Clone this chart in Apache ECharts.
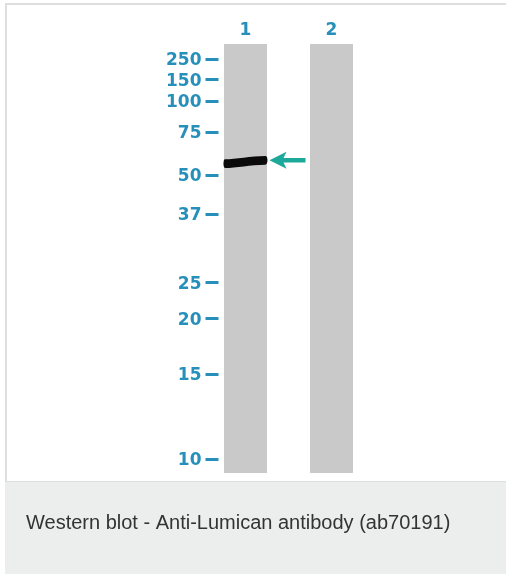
<!DOCTYPE html>
<html>
<head>
<meta charset="utf-8">
<script src="https://cdn.jsdelivr.net/npm/echarts@6/dist/echarts.min.js"></script>
<style>
html,body{margin:0;padding:0;background:#fff;}
#chart{width:506px;height:574px;}
</style>
</head>
<body>
<div id="chart"></div>
<script>
// Lanes of the blot
var lanes = ['1', '2'];
var laneExtent = [1, 1];               // each lane runs the full gel length (relative migration 0..1)
// Molecular-weight ladder (kDa) and relative migration (0 = top of gel, 1 = bottom)
var markerLabels = ['250', '150', '100', '75', '50', '37', '25', '20', '15', '10'];
var markerRf = [0.035, 0.082, 0.133, 0.205, 0.305, 0.396, 0.555, 0.639, 0.769, 0.967];
// Detected band (lane 1) and its relative migration
var bandLane = '1';
var bandRf = 0.275;
var caption = 'Western blot - Anti-Lumican antibody (ab70191)';

var labelColor = '#2690bb';
var chart = echarts.init(document.getElementById('chart'), null, {renderer: 'canvas'});

var bandPath = 'path://M1,4 C12,4 28,1 43,1 C46,1 46,9 43,9 C28,9 12,12 1,12 C-1,12 -1,4 1,4 Z';
var arrowPath = 'path://M0,9 L17,0 L14,6.5 L36,6.5 L36,11.5 L14,11.5 L17,18 Z';

chart.setOption({
  animation: false,
  backgroundColor: '#ffffff',
  graphic: [
    {type: 'rect', z: -10, silent: true, shape: {x: 6, y: 4, width: 510, height: 478},
     style: {fill: '#ffffff', stroke: '#dedede', lineWidth: 2}},
    {type: 'rect', z: -9, silent: true, shape: {x: 5, y: 482, width: 501, height: 92},
     style: {fill: '#eceeed'}}
  ],
  title: {
    text: caption, left: 21, top: 508,
    textStyle: {fontFamily: 'Liberation Sans', fontSize: 20, fontWeight: 'normal', color: '#333333'}
  },
  grid: {left: 202.5, right: 131.5, top: 44, bottom: 101},
  xAxis: {
    type: 'category', data: lanes, position: 'top',
    axisLine: {show: false}, axisTick: {show: false},
    axisLabel: {margin: 5, color: labelColor, fontFamily: 'DejaVu Sans', fontWeight: 'bold', fontSize: 17}
  },
  yAxis: {
    type: 'value', inverse: true, min: 0, max: 1, offset: -16,
    splitLine: {show: false},
    axisLine: {show: false},
    axisTick: {show: true, customValues: markerRf, length: 13, lineStyle: {color: labelColor, width: 3}},
    axisLabel: {
      customValues: markerRf, margin: 17, color: labelColor,
      fontFamily: 'DejaVu Sans', fontWeight: 'bold', fontSize: 17,
      rich: {m: {color: labelColor, fontFamily: 'DejaVu Sans', fontWeight: 'bold', fontSize: 17, padding: [4, 0, 0, 0]}},
      formatter: function (v) {
        var best = 0, d = 1e9;
        for (var i = 0; i < markerRf.length; i++) {
          var dd = Math.abs(markerRf[i] - v);
          if (dd < d) { d = dd; best = i; }
        }
        return '{m|' + markerLabels[best] + '}';
      }
    }
  },
  series: [
    {type: 'bar', data: laneExtent, barWidth: 43, itemStyle: {color: '#c9c9c9'}, silent: true},
    {type: 'scatter', data: [[bandLane, bandRf]], symbol: bandPath, symbolSize: [44, 12],
     symbolKeepAspect: false, itemStyle: {color: '#0a0a0a', opacity: 1}, z: 5, silent: true},
    {type: 'scatter', data: [[bandLane, bandRf - 0.004]], symbol: arrowPath, symbolSize: [36, 17],
     symbolOffset: [42, 0], itemStyle: {color: '#1ca99c', opacity: 1}, z: 5, silent: true}
  ]
});
</script>
</body>
</html>
